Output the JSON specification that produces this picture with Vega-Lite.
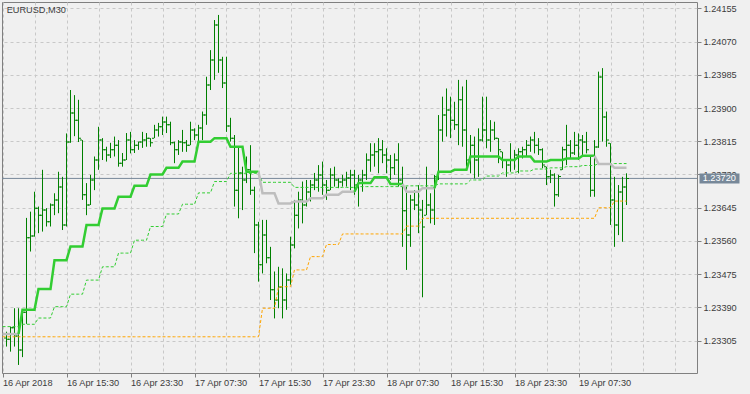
{
"$schema": "https://vega.github.io/schema/vega-lite/v6.json",
"width": 695, "height": 371,
"autosize": {"type": "none"},
"padding": {"left": 2, "top": 2, "right": 53, "bottom": 21},
"background": "#f0f0f0",
"title": {"text": "EURUSD,M30", "anchor": "start", "frame": "group", "orient": "top", "offset": -10.5, "dx": 4.7, "dy": 9.7, "baseline": "alphabetic", "font": "Liberation Sans", "fontSize": 9.2, "fontWeight": "normal", "color": "#3c3c3c"},
"config": {
  "view": {"stroke": "#808080", "strokeWidth": 1, "fill": "#f0f0f0"},
  "axis": {"labelFont": "Liberation Sans", "labelFontSize": 9.2, "labelColor": "#3c3c3c", "domain": false, "tickColor": "#808080", "tickSize": 4, "gridColor": "#c8c8c8", "gridDash": [3, 3], "gridWidth": 1, "labelOverlap": false, "labelSeparation": 0},
  "axisY": {"labelOverlap": false, "labelFlush": false, "labelBound": false},
  "axisRight": {"labelOverlap": false}
},
"datasets": {
"last": [{"t": "2018-04-19T13:30", "p": 1.2372}],
"bars": [
{"t":"2018-04-16T08:00","o":1.23312,"h":1.23328,"l":1.23290,"c":1.23309},
{"t":"2018-04-16T08:30","o":1.23309,"h":1.23341,"l":1.23277,"c":1.23338},
{"t":"2018-04-16T09:00","o":1.23338,"h":1.23388,"l":1.23290,"c":1.23317},
{"t":"2018-04-16T09:30","o":1.23317,"h":1.23388,"l":1.23243,"c":1.23281},
{"t":"2018-04-16T10:00","o":1.23281,"h":1.23384,"l":1.23263,"c":1.23378},
{"t":"2018-04-16T10:30","o":1.23378,"h":1.23619,"l":1.23348,"c":1.23568},
{"t":"2018-04-16T11:00","o":1.23568,"h":1.23635,"l":1.23533,"c":1.23573},
{"t":"2018-04-16T11:30","o":1.23573,"h":1.23686,"l":1.23571,"c":1.23644},
{"t":"2018-04-16T12:00","o":1.23644,"h":1.23648,"l":1.23580,"c":1.23626},
{"t":"2018-04-16T12:30","o":1.23626,"h":1.23742,"l":1.23584,"c":1.23639},
{"t":"2018-04-16T13:00","o":1.23639,"h":1.23644,"l":1.23597,"c":1.23609},
{"t":"2018-04-16T13:30","o":1.23609,"h":1.23656,"l":1.23597,"c":1.23652},
{"t":"2018-04-16T14:00","o":1.23652,"h":1.23682,"l":1.23626,"c":1.23665},
{"t":"2018-04-16T14:30","o":1.23665,"h":1.23737,"l":1.23631,"c":1.23698},
{"t":"2018-04-16T15:00","o":1.23698,"h":1.23724,"l":1.23588,"c":1.23601},
{"t":"2018-04-16T15:30","o":1.23601,"h":1.23835,"l":1.23597,"c":1.23813},
{"t":"2018-04-16T16:00","o":1.23813,"h":1.23946,"l":1.23811,"c":1.23887},
{"t":"2018-04-16T16:30","o":1.23887,"h":1.23933,"l":1.23828,"c":1.23869},
{"t":"2018-04-16T17:00","o":1.23869,"h":1.23921,"l":1.23813,"c":1.23823},
{"t":"2018-04-16T17:30","o":1.23818,"h":1.23818,"l":1.23665,"c":1.23678},
{"t":"2018-04-16T18:00","o":1.23678,"h":1.23708,"l":1.23626,"c":1.23652},
{"t":"2018-04-16T18:30","o":1.23652,"h":1.23729,"l":1.23652,"c":1.23716},
{"t":"2018-04-16T19:00","o":1.23716,"h":1.23776,"l":1.23690,"c":1.23767},
{"t":"2018-04-16T19:30","o":1.23767,"h":1.23852,"l":1.23742,"c":1.23818},
{"t":"2018-04-16T20:00","o":1.23818,"h":1.23823,"l":1.23767,"c":1.23793},
{"t":"2018-04-16T20:30","o":1.23793,"h":1.23801,"l":1.23763,"c":1.23780},
{"t":"2018-04-16T21:00","o":1.23780,"h":1.23811,"l":1.23772,"c":1.23793},
{"t":"2018-04-16T21:30","o":1.23793,"h":1.23827,"l":1.23776,"c":1.23805},
{"t":"2018-04-16T22:00","o":1.23805,"h":1.23818,"l":1.23750,"c":1.23759},
{"t":"2018-04-16T22:30","o":1.23759,"h":1.23785,"l":1.23750,"c":1.23767},
{"t":"2018-04-16T23:00","o":1.23767,"h":1.23836,"l":1.23767,"c":1.23818},
{"t":"2018-04-16T23:30","o":1.23818,"h":1.23839,"l":1.23784,"c":1.23793},
{"t":"2018-04-17T00:00","o":1.23793,"h":1.23818,"l":1.23785,"c":1.23805},
{"t":"2018-04-17T00:30","o":1.23805,"h":1.23814,"l":1.23793,"c":1.23813},
{"t":"2018-04-17T01:00","o":1.23813,"h":1.23839,"l":1.23798,"c":1.23818},
{"t":"2018-04-17T01:30","o":1.23818,"h":1.23836,"l":1.23801,"c":1.23823},
{"t":"2018-04-17T02:00","o":1.23823,"h":1.23823,"l":1.23801,"c":1.23811},
{"t":"2018-04-17T02:30","o":1.23823,"h":1.23857,"l":1.23823,"c":1.23844},
{"t":"2018-04-17T03:00","o":1.23844,"h":1.23862,"l":1.23827,"c":1.23852},
{"t":"2018-04-17T03:30","o":1.23852,"h":1.23878,"l":1.23831,"c":1.23864},
{"t":"2018-04-17T04:00","o":1.23864,"h":1.23878,"l":1.23836,"c":1.23857},
{"t":"2018-04-17T04:30","o":1.23857,"h":1.23865,"l":1.23805,"c":1.23811},
{"t":"2018-04-17T05:00","o":1.23811,"h":1.23814,"l":1.23759,"c":1.23793},
{"t":"2018-04-17T05:30","o":1.23793,"h":1.23818,"l":1.23780,"c":1.23813},
{"t":"2018-04-17T06:00","o":1.23813,"h":1.23844,"l":1.23788,"c":1.23811},
{"t":"2018-04-17T06:30","o":1.23811,"h":1.23818,"l":1.23788,"c":1.23805},
{"t":"2018-04-17T07:00","o":1.23805,"h":1.23865,"l":1.23805,"c":1.23844},
{"t":"2018-04-17T07:30","o":1.23844,"h":1.23848,"l":1.23818,"c":1.23831},
{"t":"2018-04-17T08:00","o":1.23831,"h":1.23857,"l":1.23814,"c":1.23849},
{"t":"2018-04-17T08:30","o":1.23849,"h":1.23891,"l":1.23818,"c":1.23882},
{"t":"2018-04-17T09:00","o":1.23882,"h":1.23980,"l":1.23857,"c":1.23959},
{"t":"2018-04-17T09:30","o":1.23959,"h":1.24048,"l":1.23946,"c":1.24023},
{"t":"2018-04-17T10:00","o":1.24023,"h":1.24125,"l":1.23972,"c":1.24112},
{"t":"2018-04-17T10:30","o":1.24112,"h":1.24138,"l":1.23990,"c":1.24023},
{"t":"2018-04-17T11:00","o":1.24023,"h":1.24031,"l":1.23951,"c":1.23964},
{"t":"2018-04-17T11:30","o":1.23964,"h":1.24031,"l":1.23839,"c":1.23854},
{"t":"2018-04-17T12:00","o":1.23854,"h":1.23875,"l":1.23814,"c":1.23823},
{"t":"2018-04-17T12:30","o":1.23823,"h":1.23831,"l":1.23648,"c":1.23690},
{"t":"2018-04-17T13:00","o":1.23690,"h":1.23801,"l":1.23618,"c":1.23734},
{"t":"2018-04-17T13:30","o":1.23734,"h":1.23750,"l":1.23639,"c":1.23716},
{"t":"2018-04-17T14:00","o":1.23716,"h":1.23776,"l":1.23708,"c":1.23742},
{"t":"2018-04-17T14:30","o":1.23742,"h":1.23805,"l":1.23678,"c":1.23690},
{"t":"2018-04-17T15:00","o":1.23690,"h":1.23699,"l":1.23529,"c":1.23601},
{"t":"2018-04-17T15:30","o":1.23601,"h":1.23609,"l":1.23456,"c":1.23499},
{"t":"2018-04-17T16:00","o":1.23499,"h":1.23614,"l":1.23477,"c":1.23575},
{"t":"2018-04-17T16:30","o":1.23575,"h":1.23614,"l":1.23503,"c":1.23517},
{"t":"2018-04-17T17:00","o":1.23517,"h":1.23545,"l":1.23409,"c":1.23435},
{"t":"2018-04-17T17:30","o":1.23435,"h":1.23482,"l":1.23362,"c":1.23409},
{"t":"2018-04-17T18:00","o":1.23409,"h":1.23494,"l":1.23388,"c":1.23442},
{"t":"2018-04-17T18:30","o":1.23442,"h":1.23490,"l":1.23362,"c":1.23409},
{"t":"2018-04-17T19:00","o":1.23409,"h":1.23477,"l":1.23384,"c":1.23460},
{"t":"2018-04-17T19:30","o":1.23460,"h":1.23571,"l":1.23448,"c":1.23550},
{"t":"2018-04-17T20:00","o":1.23550,"h":1.23665,"l":1.23541,"c":1.23626},
{"t":"2018-04-17T20:30","o":1.23626,"h":1.23686,"l":1.23592,"c":1.23665},
{"t":"2018-04-17T21:00","o":1.23665,"h":1.23712,"l":1.23605,"c":1.23652},
{"t":"2018-04-17T21:30","o":1.23652,"h":1.23716,"l":1.23648,"c":1.23685},
{"t":"2018-04-17T22:00","o":1.23685,"h":1.23716,"l":1.23661,"c":1.23703},
{"t":"2018-04-17T22:30","o":1.23703,"h":1.23734,"l":1.23690,"c":1.23716},
{"t":"2018-04-17T23:00","o":1.23716,"h":1.23754,"l":1.23686,"c":1.23729},
{"t":"2018-04-17T23:30","o":1.23729,"h":1.23763,"l":1.23678,"c":1.23703},
{"t":"2018-04-18T00:00","o":1.23703,"h":1.23716,"l":1.23665,"c":1.23690},
{"t":"2018-04-18T00:30","o":1.23690,"h":1.23746,"l":1.23690,"c":1.23729},
{"t":"2018-04-18T01:00","o":1.23729,"h":1.23750,"l":1.23699,"c":1.23716},
{"t":"2018-04-18T01:30","o":1.23716,"h":1.23720,"l":1.23695,"c":1.23711},
{"t":"2018-04-18T02:00","o":1.23711,"h":1.23729,"l":1.23699,"c":1.23716},
{"t":"2018-04-18T02:30","o":1.23716,"h":1.23737,"l":1.23699,"c":1.23721},
{"t":"2018-04-18T03:00","o":1.23721,"h":1.23742,"l":1.23690,"c":1.23729},
{"t":"2018-04-18T03:30","o":1.23729,"h":1.23742,"l":1.23678,"c":1.23703},
{"t":"2018-04-18T04:00","o":1.23703,"h":1.23729,"l":1.23648,"c":1.23716},
{"t":"2018-04-18T04:30","o":1.23716,"h":1.23742,"l":1.23686,"c":1.23729},
{"t":"2018-04-18T05:00","o":1.23729,"h":1.23784,"l":1.23716,"c":1.23767},
{"t":"2018-04-18T05:30","o":1.23767,"h":1.23810,"l":1.23737,"c":1.23780},
{"t":"2018-04-18T06:00","o":1.23780,"h":1.23810,"l":1.23750,"c":1.23788},
{"t":"2018-04-18T06:30","o":1.23788,"h":1.23823,"l":1.23733,"c":1.23793},
{"t":"2018-04-18T07:00","o":1.23793,"h":1.23818,"l":1.23759,"c":1.23780},
{"t":"2018-04-18T07:30","o":1.23780,"h":1.23797,"l":1.23733,"c":1.23767},
{"t":"2018-04-18T08:00","o":1.23767,"h":1.23780,"l":1.23716,"c":1.23747},
{"t":"2018-04-18T08:30","o":1.23747,"h":1.23784,"l":1.23729,"c":1.23767},
{"t":"2018-04-18T09:00","o":1.23767,"h":1.23810,"l":1.23699,"c":1.23716},
{"t":"2018-04-18T09:30","o":1.23716,"h":1.23750,"l":1.23545,"c":1.23637},
{"t":"2018-04-18T10:00","o":1.23637,"h":1.23699,"l":1.23486,"c":1.23575},
{"t":"2018-04-18T10:30","o":1.23575,"h":1.23678,"l":1.23545,"c":1.23665},
{"t":"2018-04-18T11:00","o":1.23665,"h":1.23690,"l":1.23639,"c":1.23652},
{"t":"2018-04-18T11:30","o":1.23652,"h":1.23703,"l":1.23580,"c":1.23639},
{"t":"2018-04-18T12:00","o":1.23639,"h":1.23665,"l":1.23416,"c":1.23596},
{"t":"2018-04-18T12:30","o":1.23626,"h":1.23750,"l":1.23626,"c":1.23652},
{"t":"2018-04-18T13:00","o":1.23652,"h":1.23682,"l":1.23605,"c":1.23639},
{"t":"2018-04-18T13:30","o":1.23639,"h":1.23729,"l":1.23601,"c":1.23724},
{"t":"2018-04-18T14:00","o":1.23724,"h":1.23882,"l":1.23716,"c":1.23844},
{"t":"2018-04-18T14:30","o":1.23844,"h":1.23929,"l":1.23814,"c":1.23882},
{"t":"2018-04-18T15:00","o":1.23882,"h":1.23950,"l":1.23827,"c":1.23895},
{"t":"2018-04-18T15:30","o":1.23895,"h":1.23929,"l":1.23823,"c":1.23869},
{"t":"2018-04-18T16:00","o":1.23869,"h":1.23916,"l":1.23844,"c":1.23857},
{"t":"2018-04-18T16:30","o":1.23857,"h":1.23972,"l":1.23805,"c":1.23921},
{"t":"2018-04-18T17:00","o":1.23921,"h":1.23955,"l":1.23801,"c":1.23844},
{"t":"2018-04-18T17:30","o":1.23844,"h":1.23972,"l":1.23750,"c":1.23767},
{"t":"2018-04-18T18:00","o":1.23767,"h":1.23831,"l":1.23733,"c":1.23805},
{"t":"2018-04-18T18:30","o":1.23805,"h":1.23827,"l":1.23720,"c":1.23767},
{"t":"2018-04-18T19:00","o":1.23767,"h":1.23848,"l":1.23724,"c":1.23818},
{"t":"2018-04-18T19:30","o":1.23818,"h":1.23929,"l":1.23814,"c":1.23844},
{"t":"2018-04-18T20:00","o":1.23844,"h":1.23929,"l":1.23797,"c":1.23818},
{"t":"2018-04-18T20:30","o":1.23818,"h":1.23869,"l":1.23788,"c":1.23844},
{"t":"2018-04-18T21:00","o":1.23844,"h":1.23865,"l":1.23818,"c":1.23823},
{"t":"2018-04-18T21:30","o":1.23823,"h":1.23823,"l":1.23759,"c":1.23793},
{"t":"2018-04-18T22:00","o":1.23788,"h":1.23788,"l":1.23746,"c":1.23767},
{"t":"2018-04-18T22:30","o":1.23767,"h":1.23767,"l":1.23724,"c":1.23754},
{"t":"2018-04-18T23:00","o":1.23754,"h":1.23810,"l":1.23737,"c":1.23767},
{"t":"2018-04-18T23:30","o":1.23767,"h":1.23793,"l":1.23742,"c":1.23780},
{"t":"2018-04-19T00:00","o":1.23780,"h":1.23797,"l":1.23733,"c":1.23788},
{"t":"2018-04-19T00:30","o":1.23788,"h":1.23801,"l":1.23771,"c":1.23793},
{"t":"2018-04-19T01:00","o":1.23793,"h":1.23818,"l":1.23776,"c":1.23805},
{"t":"2018-04-19T01:30","o":1.23805,"h":1.23827,"l":1.23788,"c":1.23818},
{"t":"2018-04-19T02:00","o":1.23818,"h":1.23839,"l":1.23784,"c":1.23805},
{"t":"2018-04-19T02:30","o":1.23805,"h":1.23823,"l":1.23780,"c":1.23793},
{"t":"2018-04-19T03:00","o":1.23793,"h":1.23797,"l":1.23746,"c":1.23754},
{"t":"2018-04-19T03:30","o":1.23750,"h":1.23750,"l":1.23703,"c":1.23724},
{"t":"2018-04-19T04:00","o":1.23724,"h":1.23742,"l":1.23708,"c":1.23729},
{"t":"2018-04-19T04:30","o":1.23729,"h":1.23733,"l":1.23648,"c":1.23678},
{"t":"2018-04-19T05:00","o":1.23678,"h":1.23729,"l":1.23673,"c":1.23725},
{"t":"2018-04-19T05:30","o":1.23742,"h":1.23801,"l":1.23742,"c":1.23793},
{"t":"2018-04-19T06:00","o":1.23793,"h":1.23857,"l":1.23754,"c":1.23805},
{"t":"2018-04-19T06:30","o":1.23805,"h":1.23818,"l":1.23771,"c":1.23785},
{"t":"2018-04-19T07:00","o":1.23785,"h":1.23839,"l":1.23780,"c":1.23805},
{"t":"2018-04-19T07:30","o":1.23805,"h":1.23835,"l":1.23767,"c":1.23818},
{"t":"2018-04-19T08:00","o":1.23818,"h":1.23831,"l":1.23776,"c":1.23813},
{"t":"2018-04-19T08:30","o":1.23813,"h":1.23839,"l":1.23784,"c":1.23793},
{"t":"2018-04-19T09:00","o":1.23776,"h":1.23776,"l":1.23673,"c":1.23690},
{"t":"2018-04-19T09:30","o":1.23690,"h":1.23818,"l":1.23673,"c":1.23800},
{"t":"2018-04-19T10:00","o":1.23800,"h":1.23993,"l":1.23798,"c":1.23979},
{"t":"2018-04-19T10:30","o":1.23979,"h":1.24002,"l":1.23814,"c":1.23877},
{"t":"2018-04-19T11:00","o":1.23877,"h":1.23891,"l":1.23801,"c":1.23818},
{"t":"2018-04-19T11:30","o":1.23810,"h":1.23810,"l":1.23601,"c":1.23665},
{"t":"2018-04-19T12:00","o":1.23665,"h":1.23724,"l":1.23545,"c":1.23601},
{"t":"2018-04-19T12:30","o":1.23601,"h":1.23703,"l":1.23575,"c":1.23685},
{"t":"2018-04-19T13:00","o":1.23685,"h":1.23724,"l":1.23558,"c":1.23698},
{"t":"2018-04-19T13:30","o":1.23698,"h":1.23733,"l":1.23652,"c":1.23720}
],
"lines": [
{"t":"2018-04-16T07:30","m":1.23322,"s":1,"tr":"dn","g":1.23341,"r":1.23315},
{"t":"2018-04-16T08:00","m":1.23322,"s":1,"tr":"dn","g":1.23341,"r":1.23315},
{"t":"2018-04-16T08:30","m":1.23322,"s":1,"tr":"dn","g":1.23341,"r":1.23315},
{"t":"2018-04-16T09:00","m":1.23322,"s":1,"tr":"dn","g":1.23341,"r":1.23315},
{"t":"2018-04-16T09:30","m":1.23322,"s":1,"tr":"dn","g":1.23341,"r":1.23315},
{"t":"2018-04-16T09:30","m":1.23322,"s":2,"tr":"up","g":1.23341,"r":1.23315},
{"t":"2018-04-16T10:00","m":1.23384,"s":2,"tr":"up","g":1.23347,"r":1.23315},
{"t":"2018-04-16T10:30","m":1.23384,"s":2,"tr":"up","g":1.23347,"r":1.23315},
{"t":"2018-04-16T11:00","m":1.23384,"s":2,"tr":"up","g":1.23347,"r":1.23315},
{"t":"2018-04-16T11:30","m":1.23384,"s":2,"tr":"up","g":1.23347,"r":1.23315},
{"t":"2018-04-16T12:00","m":1.23437,"s":2,"tr":"up","g":1.23363,"r":1.23315},
{"t":"2018-04-16T12:30","m":1.23437,"s":2,"tr":"up","g":1.23363,"r":1.23315},
{"t":"2018-04-16T13:00","m":1.23437,"s":2,"tr":"up","g":1.23363,"r":1.23315},
{"t":"2018-04-16T13:30","m":1.23437,"s":2,"tr":"up","g":1.23363,"r":1.23315},
{"t":"2018-04-16T14:00","m":1.23511,"s":2,"tr":"up","g":1.23392,"r":1.23315},
{"t":"2018-04-16T14:30","m":1.23511,"s":2,"tr":"up","g":1.23392,"r":1.23315},
{"t":"2018-04-16T15:00","m":1.23511,"s":2,"tr":"up","g":1.23392,"r":1.23315},
{"t":"2018-04-16T15:30","m":1.23511,"s":2,"tr":"up","g":1.23392,"r":1.23315},
{"t":"2018-04-16T16:00","m":1.23546,"s":2,"tr":"up","g":1.23424,"r":1.23315},
{"t":"2018-04-16T16:30","m":1.23546,"s":2,"tr":"up","g":1.23424,"r":1.23315},
{"t":"2018-04-16T17:00","m":1.23546,"s":2,"tr":"up","g":1.23424,"r":1.23315},
{"t":"2018-04-16T17:30","m":1.23546,"s":2,"tr":"up","g":1.23424,"r":1.23315},
{"t":"2018-04-16T18:00","m":1.23601,"s":2,"tr":"up","g":1.23460,"r":1.23315},
{"t":"2018-04-16T18:30","m":1.23601,"s":2,"tr":"up","g":1.23460,"r":1.23315},
{"t":"2018-04-16T19:00","m":1.23601,"s":2,"tr":"up","g":1.23460,"r":1.23315},
{"t":"2018-04-16T19:30","m":1.23601,"s":2,"tr":"up","g":1.23460,"r":1.23315},
{"t":"2018-04-16T20:00","m":1.23643,"s":2,"tr":"up","g":1.23494,"r":1.23315},
{"t":"2018-04-16T20:30","m":1.23643,"s":2,"tr":"up","g":1.23494,"r":1.23315},
{"t":"2018-04-16T21:00","m":1.23643,"s":2,"tr":"up","g":1.23494,"r":1.23315},
{"t":"2018-04-16T21:30","m":1.23643,"s":2,"tr":"up","g":1.23494,"r":1.23315},
{"t":"2018-04-16T22:00","m":1.23673,"s":2,"tr":"up","g":1.23529,"r":1.23315},
{"t":"2018-04-16T22:30","m":1.23673,"s":2,"tr":"up","g":1.23529,"r":1.23315},
{"t":"2018-04-16T23:00","m":1.23673,"s":2,"tr":"up","g":1.23529,"r":1.23315},
{"t":"2018-04-16T23:30","m":1.23673,"s":2,"tr":"up","g":1.23529,"r":1.23315},
{"t":"2018-04-17T00:00","m":1.23701,"s":2,"tr":"up","g":1.23562,"r":1.23315},
{"t":"2018-04-17T00:30","m":1.23701,"s":2,"tr":"up","g":1.23562,"r":1.23315},
{"t":"2018-04-17T01:00","m":1.23701,"s":2,"tr":"up","g":1.23562,"r":1.23315},
{"t":"2018-04-17T01:30","m":1.23701,"s":2,"tr":"up","g":1.23562,"r":1.23315},
{"t":"2018-04-17T02:00","m":1.23730,"s":2,"tr":"up","g":1.23597,"r":1.23315},
{"t":"2018-04-17T02:30","m":1.23730,"s":2,"tr":"up","g":1.23597,"r":1.23315},
{"t":"2018-04-17T03:00","m":1.23730,"s":2,"tr":"up","g":1.23597,"r":1.23315},
{"t":"2018-04-17T03:30","m":1.23730,"s":2,"tr":"up","g":1.23597,"r":1.23315},
{"t":"2018-04-17T04:00","m":1.23747,"s":2,"tr":"up","g":1.23629,"r":1.23315},
{"t":"2018-04-17T04:30","m":1.23747,"s":2,"tr":"up","g":1.23629,"r":1.23315},
{"t":"2018-04-17T05:00","m":1.23747,"s":2,"tr":"up","g":1.23629,"r":1.23315},
{"t":"2018-04-17T05:30","m":1.23747,"s":2,"tr":"up","g":1.23629,"r":1.23315},
{"t":"2018-04-17T06:00","m":1.23763,"s":2,"tr":"up","g":1.23654,"r":1.23315},
{"t":"2018-04-17T06:30","m":1.23763,"s":2,"tr":"up","g":1.23654,"r":1.23315},
{"t":"2018-04-17T07:00","m":1.23763,"s":2,"tr":"up","g":1.23654,"r":1.23315},
{"t":"2018-04-17T07:30","m":1.23763,"s":2,"tr":"up","g":1.23654,"r":1.23315},
{"t":"2018-04-17T08:00","m":1.23814,"s":2,"tr":"up","g":1.23683,"r":1.23315},
{"t":"2018-04-17T08:30","m":1.23814,"s":2,"tr":"up","g":1.23683,"r":1.23315},
{"t":"2018-04-17T09:00","m":1.23814,"s":2,"tr":"up","g":1.23683,"r":1.23315},
{"t":"2018-04-17T09:30","m":1.23814,"s":2,"tr":"up","g":1.23683,"r":1.23315},
{"t":"2018-04-17T10:00","m":1.23823,"s":2,"tr":"up","g":1.23712,"r":1.23315},
{"t":"2018-04-17T10:30","m":1.23823,"s":2,"tr":"up","g":1.23712,"r":1.23315},
{"t":"2018-04-17T11:00","m":1.23823,"s":2,"tr":"up","g":1.23712,"r":1.23315},
{"t":"2018-04-17T11:30","m":1.23823,"s":2,"tr":"up","g":1.23712,"r":1.23315},
{"t":"2018-04-17T12:00","m":1.23801,"s":2,"tr":"up","g":1.23733,"r":1.23315},
{"t":"2018-04-17T12:30","m":1.23801,"s":2,"tr":"up","g":1.23733,"r":1.23315},
{"t":"2018-04-17T13:00","m":1.23801,"s":2,"tr":"up","g":1.23733,"r":1.23315},
{"t":"2018-04-17T13:30","m":1.23801,"s":2,"tr":"up","g":1.23733,"r":1.23315},
{"t":"2018-04-17T14:00","m":1.23737,"s":2,"tr":"up","g":1.23733,"r":1.23315},
{"t":"2018-04-17T14:30","m":1.23737,"s":2,"tr":"up","g":1.23733,"r":1.23315},
{"t":"2018-04-17T15:00","m":1.23737,"s":2,"tr":"up","g":1.23733,"r":1.23315},
{"t":"2018-04-17T15:30","m":1.23737,"s":2,"tr":"up","g":1.23733,"r":1.23315},
{"t":"2018-04-17T15:30","m":1.23737,"s":3,"tr":"dn","g":1.23733,"r":1.23315},
{"t":"2018-04-17T16:00","m":1.23682,"s":3,"tr":"dn","g":1.23710,"r":1.23388},
{"t":"2018-04-17T16:30","m":1.23682,"s":3,"tr":"dn","g":1.23710,"r":1.23388},
{"t":"2018-04-17T17:00","m":1.23682,"s":3,"tr":"dn","g":1.23710,"r":1.23388},
{"t":"2018-04-17T17:30","m":1.23682,"s":3,"tr":"dn","g":1.23710,"r":1.23388},
{"t":"2018-04-17T18:00","m":1.23656,"s":3,"tr":"dn","g":1.23710,"r":1.23443},
{"t":"2018-04-17T18:30","m":1.23656,"s":3,"tr":"dn","g":1.23710,"r":1.23443},
{"t":"2018-04-17T19:00","m":1.23656,"s":3,"tr":"dn","g":1.23710,"r":1.23443},
{"t":"2018-04-17T19:30","m":1.23656,"s":3,"tr":"dn","g":1.23710,"r":1.23443},
{"t":"2018-04-17T20:00","m":1.23661,"s":3,"tr":"dn","g":1.23697,"r":1.23486},
{"t":"2018-04-17T20:30","m":1.23661,"s":3,"tr":"dn","g":1.23697,"r":1.23486},
{"t":"2018-04-17T21:00","m":1.23661,"s":3,"tr":"dn","g":1.23697,"r":1.23486},
{"t":"2018-04-17T21:30","m":1.23661,"s":3,"tr":"dn","g":1.23697,"r":1.23486},
{"t":"2018-04-17T22:00","m":1.23669,"s":3,"tr":"dn","g":1.23697,"r":1.23520},
{"t":"2018-04-17T22:30","m":1.23669,"s":3,"tr":"dn","g":1.23697,"r":1.23520},
{"t":"2018-04-17T23:00","m":1.23669,"s":3,"tr":"dn","g":1.23697,"r":1.23520},
{"t":"2018-04-17T23:30","m":1.23669,"s":3,"tr":"dn","g":1.23697,"r":1.23520},
{"t":"2018-04-18T00:00","m":1.23678,"s":3,"tr":"dn","g":1.23697,"r":1.23551},
{"t":"2018-04-18T00:30","m":1.23678,"s":3,"tr":"dn","g":1.23697,"r":1.23551},
{"t":"2018-04-18T01:00","m":1.23678,"s":3,"tr":"dn","g":1.23697,"r":1.23551},
{"t":"2018-04-18T01:30","m":1.23678,"s":3,"tr":"dn","g":1.23697,"r":1.23551},
{"t":"2018-04-18T02:00","m":1.23686,"s":3,"tr":"dn","g":1.23697,"r":1.23578},
{"t":"2018-04-18T02:30","m":1.23686,"s":3,"tr":"dn","g":1.23697,"r":1.23578},
{"t":"2018-04-18T03:00","m":1.23686,"s":3,"tr":"dn","g":1.23697,"r":1.23578},
{"t":"2018-04-18T03:30","m":1.23686,"s":3,"tr":"dn","g":1.23697,"r":1.23578},
{"t":"2018-04-18T03:30","m":1.23686,"s":4,"tr":"up","g":1.23697,"r":1.23578},
{"t":"2018-04-18T04:00","m":1.23708,"s":4,"tr":"up","g":1.23699,"r":1.23578},
{"t":"2018-04-18T04:30","m":1.23708,"s":4,"tr":"up","g":1.23699,"r":1.23578},
{"t":"2018-04-18T05:00","m":1.23708,"s":4,"tr":"up","g":1.23699,"r":1.23578},
{"t":"2018-04-18T05:30","m":1.23708,"s":4,"tr":"up","g":1.23699,"r":1.23578},
{"t":"2018-04-18T06:00","m":1.23723,"s":4,"tr":"up","g":1.23699,"r":1.23578},
{"t":"2018-04-18T06:30","m":1.23723,"s":4,"tr":"up","g":1.23699,"r":1.23578},
{"t":"2018-04-18T07:00","m":1.23723,"s":4,"tr":"up","g":1.23699,"r":1.23578},
{"t":"2018-04-18T07:30","m":1.23723,"s":4,"tr":"up","g":1.23699,"r":1.23578},
{"t":"2018-04-18T08:00","m":1.23706,"s":4,"tr":"up","g":1.23699,"r":1.23578},
{"t":"2018-04-18T08:30","m":1.23706,"s":4,"tr":"up","g":1.23699,"r":1.23578},
{"t":"2018-04-18T09:00","m":1.23706,"s":4,"tr":"up","g":1.23699,"r":1.23578},
{"t":"2018-04-18T09:30","m":1.23706,"s":4,"tr":"up","g":1.23699,"r":1.23578},
{"t":"2018-04-18T09:30","m":1.23706,"s":5,"tr":"dn","g":1.23699,"r":1.23578},
{"t":"2018-04-18T10:00","m":1.23686,"s":5,"tr":"dn","g":1.23701,"r":1.23598},
{"t":"2018-04-18T10:30","m":1.23686,"s":5,"tr":"dn","g":1.23701,"r":1.23598},
{"t":"2018-04-18T11:00","m":1.23686,"s":5,"tr":"dn","g":1.23701,"r":1.23598},
{"t":"2018-04-18T11:30","m":1.23686,"s":5,"tr":"dn","g":1.23701,"r":1.23598},
{"t":"2018-04-18T12:00","m":1.23695,"s":5,"tr":"dn","g":1.23701,"r":1.23618},
{"t":"2018-04-18T12:30","m":1.23695,"s":5,"tr":"dn","g":1.23701,"r":1.23618},
{"t":"2018-04-18T13:00","m":1.23695,"s":5,"tr":"dn","g":1.23701,"r":1.23618},
{"t":"2018-04-18T13:30","m":1.23695,"s":5,"tr":"dn","g":1.23701,"r":1.23618},
{"t":"2018-04-18T13:30","m":1.23695,"s":6,"tr":"up","g":1.23701,"r":1.23618},
{"t":"2018-04-18T14:00","m":1.23737,"s":6,"tr":"up","g":1.23706,"r":1.23618},
{"t":"2018-04-18T14:30","m":1.23737,"s":6,"tr":"up","g":1.23706,"r":1.23618},
{"t":"2018-04-18T15:00","m":1.23737,"s":6,"tr":"up","g":1.23706,"r":1.23618},
{"t":"2018-04-18T15:30","m":1.23737,"s":6,"tr":"up","g":1.23706,"r":1.23618},
{"t":"2018-04-18T16:00","m":1.23742,"s":6,"tr":"up","g":1.23706,"r":1.23618},
{"t":"2018-04-18T16:30","m":1.23742,"s":6,"tr":"up","g":1.23706,"r":1.23618},
{"t":"2018-04-18T17:00","m":1.23742,"s":6,"tr":"up","g":1.23706,"r":1.23618},
{"t":"2018-04-18T17:30","m":1.23742,"s":6,"tr":"up","g":1.23706,"r":1.23618},
{"t":"2018-04-18T18:00","m":1.23776,"s":6,"tr":"up","g":1.23716,"r":1.23618},
{"t":"2018-04-18T18:30","m":1.23776,"s":6,"tr":"up","g":1.23716,"r":1.23618},
{"t":"2018-04-18T19:00","m":1.23776,"s":6,"tr":"up","g":1.23716,"r":1.23618},
{"t":"2018-04-18T19:30","m":1.23776,"s":6,"tr":"up","g":1.23716,"r":1.23618},
{"t":"2018-04-18T20:00","m":1.23776,"s":6,"tr":"up","g":1.23726,"r":1.23618},
{"t":"2018-04-18T20:30","m":1.23776,"s":6,"tr":"up","g":1.23726,"r":1.23618},
{"t":"2018-04-18T21:00","m":1.23776,"s":6,"tr":"up","g":1.23726,"r":1.23618},
{"t":"2018-04-18T21:30","m":1.23776,"s":6,"tr":"up","g":1.23726,"r":1.23618},
{"t":"2018-04-18T22:00","m":1.23767,"s":6,"tr":"up","g":1.23734,"r":1.23618},
{"t":"2018-04-18T22:30","m":1.23767,"s":6,"tr":"up","g":1.23734,"r":1.23618},
{"t":"2018-04-18T23:00","m":1.23767,"s":6,"tr":"up","g":1.23734,"r":1.23618},
{"t":"2018-04-18T23:30","m":1.23767,"s":6,"tr":"up","g":1.23734,"r":1.23618},
{"t":"2018-04-19T00:00","m":1.23776,"s":6,"tr":"up","g":1.23739,"r":1.23618},
{"t":"2018-04-19T00:30","m":1.23776,"s":6,"tr":"up","g":1.23739,"r":1.23618},
{"t":"2018-04-19T01:00","m":1.23776,"s":6,"tr":"up","g":1.23739,"r":1.23618},
{"t":"2018-04-19T01:30","m":1.23776,"s":6,"tr":"up","g":1.23739,"r":1.23618},
{"t":"2018-04-19T02:00","m":1.23763,"s":6,"tr":"up","g":1.23744,"r":1.23618},
{"t":"2018-04-19T02:30","m":1.23763,"s":6,"tr":"up","g":1.23744,"r":1.23618},
{"t":"2018-04-19T03:00","m":1.23763,"s":6,"tr":"up","g":1.23744,"r":1.23618},
{"t":"2018-04-19T03:30","m":1.23763,"s":6,"tr":"up","g":1.23744,"r":1.23618},
{"t":"2018-04-19T04:00","m":1.23767,"s":6,"tr":"up","g":1.23747,"r":1.23618},
{"t":"2018-04-19T04:30","m":1.23767,"s":6,"tr":"up","g":1.23747,"r":1.23618},
{"t":"2018-04-19T05:00","m":1.23767,"s":6,"tr":"up","g":1.23747,"r":1.23618},
{"t":"2018-04-19T05:30","m":1.23767,"s":6,"tr":"up","g":1.23747,"r":1.23618},
{"t":"2018-04-19T06:00","m":1.23771,"s":6,"tr":"up","g":1.23750,"r":1.23618},
{"t":"2018-04-19T06:30","m":1.23771,"s":6,"tr":"up","g":1.23750,"r":1.23618},
{"t":"2018-04-19T07:00","m":1.23771,"s":6,"tr":"up","g":1.23750,"r":1.23618},
{"t":"2018-04-19T07:30","m":1.23771,"s":6,"tr":"up","g":1.23750,"r":1.23618},
{"t":"2018-04-19T08:00","m":1.23778,"s":6,"tr":"up","g":1.23753,"r":1.23618},
{"t":"2018-04-19T08:30","m":1.23778,"s":6,"tr":"up","g":1.23753,"r":1.23618},
{"t":"2018-04-19T09:00","m":1.23778,"s":6,"tr":"up","g":1.23753,"r":1.23618},
{"t":"2018-04-19T09:30","m":1.23778,"s":6,"tr":"up","g":1.23753,"r":1.23618},
{"t":"2018-04-19T09:30","m":1.23778,"s":7,"tr":"dn","g":1.23753,"r":1.23618},
{"t":"2018-04-19T10:00","m":1.23757,"s":7,"tr":"dn","g":1.23758,"r":1.23645},
{"t":"2018-04-19T10:30","m":1.23757,"s":7,"tr":"dn","g":1.23758,"r":1.23645},
{"t":"2018-04-19T11:00","m":1.23757,"s":7,"tr":"dn","g":1.23758,"r":1.23645},
{"t":"2018-04-19T11:30","m":1.23757,"s":7,"tr":"dn","g":1.23758,"r":1.23645},
{"t":"2018-04-19T12:00","m":1.23747,"s":7,"tr":"dn","g":1.23758,"r":1.23662},
{"t":"2018-04-19T12:30","m":1.23747,"s":7,"tr":"dn","g":1.23758,"r":1.23662},
{"t":"2018-04-19T13:00","m":1.23747,"s":7,"tr":"dn","g":1.23758,"r":1.23662},
{"t":"2018-04-19T13:30","m":1.23747,"s":7,"tr":"dn","g":1.23758,"r":1.23662}
]
},
"encoding": {
  "x": {"field": "t", "type": "temporal", "title": null,
    "scale": {"domain": [{"year":2018,"month":4,"date":16,"hours":7,"minutes":26,"seconds":15}, {"year":2018,"month":4,"date":19,"hours":22,"minutes":18,"seconds":45}], "nice": false},
    "axis": {"orient": "bottom", "grid": true, "labelAlign": "left", "labelBaseline": "top", "labelPadding": 1, "labelOverlap": false, "labelFlush": false, "labelBound": false,
      "values": [
        {"year":2018,"month":4,"date":16,"hours":7,"minutes":30},{"year":2018,"month":4,"date":16,"hours":11,"minutes":30},{"year":2018,"month":4,"date":16,"hours":15,"minutes":30},{"year":2018,"month":4,"date":16,"hours":19,"minutes":30},{"year":2018,"month":4,"date":16,"hours":23,"minutes":30},
        {"year":2018,"month":4,"date":17,"hours":3,"minutes":30},{"year":2018,"month":4,"date":17,"hours":7,"minutes":30},{"year":2018,"month":4,"date":17,"hours":11,"minutes":30},{"year":2018,"month":4,"date":17,"hours":15,"minutes":30},{"year":2018,"month":4,"date":17,"hours":19,"minutes":30},{"year":2018,"month":4,"date":17,"hours":23,"minutes":30},
        {"year":2018,"month":4,"date":18,"hours":3,"minutes":30},{"year":2018,"month":4,"date":18,"hours":7,"minutes":30},{"year":2018,"month":4,"date":18,"hours":11,"minutes":30},{"year":2018,"month":4,"date":18,"hours":15,"minutes":30},{"year":2018,"month":4,"date":18,"hours":19,"minutes":30},{"year":2018,"month":4,"date":18,"hours":23,"minutes":30},
        {"year":2018,"month":4,"date":19,"hours":3,"minutes":30},{"year":2018,"month":4,"date":19,"hours":7,"minutes":30},{"year":2018,"month":4,"date":19,"hours":11,"minutes":30},{"year":2018,"month":4,"date":19,"hours":15,"minutes":30},{"year":2018,"month":4,"date":19,"hours":19,"minutes":30}
      ],
      "labelExpr": "((datum.value - datetime(2018,3,16,7,30)) % 28800000 != 0 || datum.value > datetime(2018,3,19,12,0)) ? '' : ((datum.value - datetime(2018,3,16,7,30)) == 0 ? '16 Apr 2018' : timeFormat(datum.value, '%d %b %H:%M'))",
      "tickOpacity": {"condition": {"test": "(datum.value - datetime(2018,3,16,7,30)) % 28800000 == 0 && datum.value < datetime(2018,3,19,12,0)", "value": 1}, "value": 0}
    }
  }
},
"layer": [
  {"data": {"name": "last"},
   "mark": {"type": "rule", "color": "#778899", "strokeWidth": 1},
   "encoding": {
     "x": {"datum": {"year":2018,"month":4,"date":16,"hours":7,"minutes":26,"seconds":15}, "type": "temporal"},
     "x2": {"datum": {"year":2018,"month":4,"date":19,"hours":22,"minutes":18,"seconds":45}},
     "y": {"field": "p", "type": "quantitative", "title": null,
       "scale": {"domain": [1.232224, 1.241711], "nice": false, "zero": false},
       "axis": {"orient": "right", "grid": true, "format": ".5f", "labelPadding": 2, "labelAlign": "left", "labelBaseline": "middle", "labelOverlap": false, "labelFlush": false, "labelBound": false, "labelSeparation": 0, "values": [1.23305, 1.2339, 1.23475, 1.2356, 1.23645, 1.2373, 1.23815, 1.239, 1.23985, 1.2407, 1.24155]}
     }
   }
  },
  {"data": {"name": "bars"},
   "mark": {"type": "rule", "color": "#008000", "strokeWidth": 1},
   "encoding": {
     "y": {"field": "h", "type": "quantitative", "title": null, "scale": {"domain": [1.232224, 1.241711], "nice": false, "zero": false},
       "axis": {"orient": "right", "grid": true, "format": ".5f", "labelPadding": 2, "labelAlign": "left", "labelBaseline": "middle", "labelOverlap": false, "labelFlush": false, "labelBound": false, "labelSeparation": 0, "values": [1.23305, 1.2339, 1.23475, 1.2356, 1.23645, 1.2373, 1.23815, 1.239, 1.23985, 1.2407, 1.24155]}},
     "y2": {"field": "l"}
   }
  },
  {"data": {"name": "bars"},
   "mark": {"type": "tick", "orient": "horizontal", "color": "#008000", "size": 2, "thickness": 1, "xOffset": -1.5, "opacity": 1},
   "encoding": {
     "y": {"field": "o", "type": "quantitative", "title": null, "scale": {"domain": [1.232224, 1.241711], "nice": false, "zero": false},
       "axis": {"orient": "right", "grid": true, "format": ".5f", "labelPadding": 2, "labelAlign": "left", "labelBaseline": "middle", "labelOverlap": false, "labelFlush": false, "labelBound": false, "labelSeparation": 0, "values": [1.23305, 1.2339, 1.23475, 1.2356, 1.23645, 1.2373, 1.23815, 1.239, 1.23985, 1.2407, 1.24155]}}
   }
  },
  {"data": {"name": "bars"},
   "mark": {"type": "tick", "orient": "horizontal", "color": "#008000", "size": 2, "thickness": 1, "xOffset": 1.5, "opacity": 1},
   "encoding": {
     "y": {"field": "c", "type": "quantitative", "title": null, "scale": {"domain": [1.232224, 1.241711], "nice": false, "zero": false},
       "axis": {"orient": "right", "grid": true, "format": ".5f", "labelPadding": 2, "labelAlign": "left", "labelBaseline": "middle", "labelOverlap": false, "labelFlush": false, "labelBound": false, "labelSeparation": 0, "values": [1.23305, 1.2339, 1.23475, 1.2356, 1.23645, 1.2373, 1.23815, 1.239, 1.23985, 1.2407, 1.24155]}}
   }
  },
  {"data": {"name": "lines"},
   "mark": {"type": "line", "color": "#ffa500", "strokeWidth": 1, "strokeDash": [3, 2]},
   "encoding": {
     "y": {"field": "r", "type": "quantitative", "title": null, "scale": {"domain": [1.232224, 1.241711], "nice": false, "zero": false},
       "axis": {"orient": "right", "grid": true, "format": ".5f", "labelPadding": 2, "labelAlign": "left", "labelBaseline": "middle", "labelOverlap": false, "labelFlush": false, "labelBound": false, "labelSeparation": 0, "values": [1.23305, 1.2339, 1.23475, 1.2356, 1.23645, 1.2373, 1.23815, 1.239, 1.23985, 1.2407, 1.24155]}}
   }
  },
  {"data": {"name": "lines"},
   "mark": {"type": "line", "color": "#32cd32", "strokeWidth": 1, "strokeDash": [3, 2]},
   "encoding": {
     "y": {"field": "g", "type": "quantitative", "title": null, "scale": {"domain": [1.232224, 1.241711], "nice": false, "zero": false},
       "axis": {"orient": "right", "grid": true, "format": ".5f", "labelPadding": 2, "labelAlign": "left", "labelBaseline": "middle", "labelOverlap": false, "labelFlush": false, "labelBound": false, "labelSeparation": 0, "values": [1.23305, 1.2339, 1.23475, 1.2356, 1.23645, 1.2373, 1.23815, 1.239, 1.23985, 1.2407, 1.24155]}}
   }
  },
  {"data": {"name": "lines"},
   "mark": {"type": "line", "strokeWidth": 2.5},
   "encoding": {
     "y": {"field": "m", "type": "quantitative", "title": null, "scale": {"domain": [1.232224, 1.241711], "nice": false, "zero": false},
       "axis": {"orient": "right", "grid": true, "format": ".5f", "labelPadding": 2, "labelAlign": "left", "labelBaseline": "middle", "labelOverlap": false, "labelFlush": false, "labelBound": false, "labelSeparation": 0, "values": [1.23305, 1.2339, 1.23475, 1.2356, 1.23645, 1.2373, 1.23815, 1.239, 1.23985, 1.2407, 1.24155]}},
     "detail": {"field": "s", "type": "nominal"},
     "color": {"field": "tr", "type": "nominal", "legend": null, "scale": {"domain": ["up", "dn"], "range": ["#32cd32", "#bebebe"]}}
   }
  },
  {"data": {"name": "last"},
   "mark": {"type": "rect", "color": "#778899", "xOffset": 2.5, "x2Offset": 42.5, "yOffset": -5, "y2Offset": 5},
   "encoding": {
     "x": {"datum": {"year":2018,"month":4,"date":19,"hours":22,"minutes":18,"seconds":45}, "type": "temporal"},
     "x2": {"datum": {"year":2018,"month":4,"date":19,"hours":22,"minutes":18,"seconds":45}},
     "y": {"field": "p", "type": "quantitative", "title": null, "scale": {"domain": [1.232224, 1.241711], "nice": false, "zero": false},
       "axis": {"orient": "right", "grid": true, "format": ".5f", "labelPadding": 2, "labelAlign": "left", "labelBaseline": "middle", "labelOverlap": false, "labelFlush": false, "labelBound": false, "labelSeparation": 0, "values": [1.23305, 1.2339, 1.23475, 1.2356, 1.23645, 1.2373, 1.23815, 1.239, 1.23985, 1.2407, 1.24155]}},
     "y2": {"field": "p"}
   }
  },
  {"data": {"name": "last"},
   "mark": {"type": "text", "color": "#ffffff", "align": "left", "baseline": "middle", "dx": 5.7, "font": "Liberation Sans", "fontSize": 9.2},
   "encoding": {
     "x": {"datum": {"year":2018,"month":4,"date":19,"hours":22,"minutes":18,"seconds":45}, "type": "temporal"},
     "y": {"field": "p", "type": "quantitative", "title": null, "scale": {"domain": [1.232224, 1.241711], "nice": false, "zero": false},
       "axis": {"orient": "right", "grid": true, "format": ".5f", "labelPadding": 2, "labelAlign": "left", "labelBaseline": "middle", "labelOverlap": false, "labelFlush": false, "labelBound": false, "labelSeparation": 0, "values": [1.23305, 1.2339, 1.23475, 1.2356, 1.23645, 1.2373, 1.23815, 1.239, 1.23985, 1.2407, 1.24155]}},
     "text": {"field": "p", "type": "quantitative", "format": ".5f"}
   }
  }
]
}
